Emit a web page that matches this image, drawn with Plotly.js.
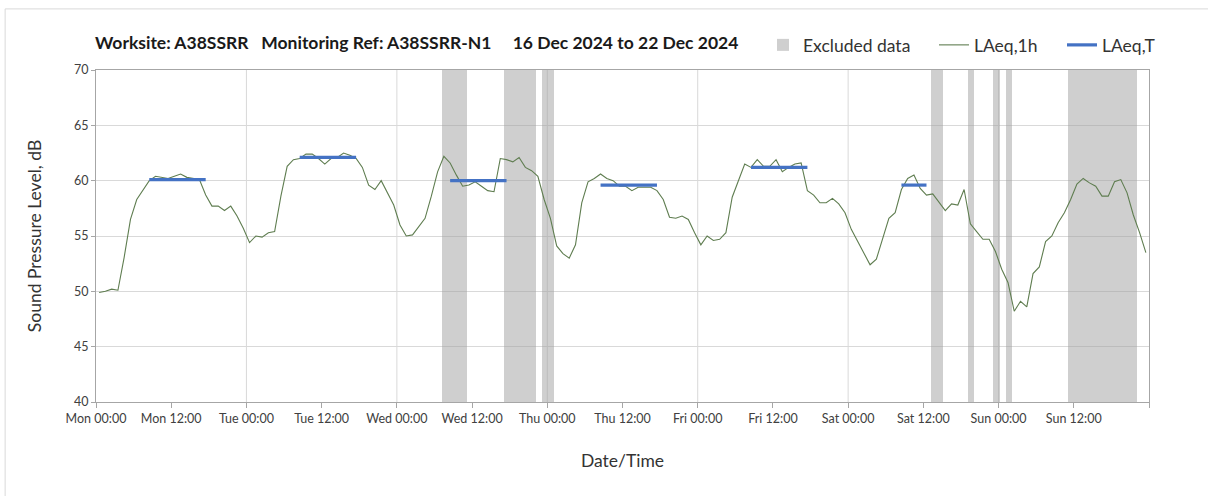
<!DOCTYPE html>
<html>
<head>
<meta charset="utf-8">
<script src="https://cdn.plot.ly/plotly-3.0.1.min.js"></script>
<style>
  html, body { margin: 0; padding: 0; background: #ffffff; }
  #chart { width: 1208px; height: 496px; }
</style>
</head>
<body>
<div id="chart"></div>
<script>
// ---- Data ----
// Day/time tick labels, every 12 hours from Mon 16 Dec 2024 00:00
const tickHours = [0, 12, 24, 36, 48, 60, 72, 84, 96, 108, 120, 132, 144, 156, 168];
const tickLabels = ["Mon 00:00", "Mon 12:00", "Tue 00:00", "Tue 12:00", "Wed 00:00", "Wed 12:00",
  "Thu 00:00", "Thu 12:00", "Fri 00:00", "Fri 12:00", "Sat 00:00", "Sat 12:00",
  "Sun 00:00", "Sun 12:00", ""];

// LAeq,1h hourly values (dB), hour 0 = Mon 00:00
const laeq1h = [
  49.9, 50.0, 50.2, 50.1, 53.1, 56.5, 58.3, 59.2, 60.0, 60.4, 60.3, 60.2,
  60.4, 60.6, 60.3, 60.2, 60.1, 58.7, 57.7, 57.7, 57.3, 57.7, 56.8, 55.7,
  54.4, 55.0, 54.9, 55.3, 55.4, 58.6, 61.3, 61.9, 62.0, 62.4, 62.4, 62.0,
  61.5, 62.0, 62.1, 62.5, 62.3, 62.0, 61.2, 59.6, 59.2, 60.0, 58.9, 57.8,
  56.0, 55.0, 55.1, 55.9, 56.6, 58.6, 60.8, 62.2, 61.6, 60.5, 59.5, 59.6,
  59.9, 59.5, 59.1, 59.0, 62.0, 61.9, 61.7, 62.1, 61.2, 60.9, 60.4, 58.3,
  56.6, 54.1, 53.4, 53.0, 54.2, 58.0, 59.9, 60.2, 60.6, 60.2, 60.0, 59.5,
  59.5, 59.1, 59.4, 59.4, 59.4, 59.1, 58.3, 56.7, 56.6, 56.8, 56.5, 55.3,
  54.2, 55.0, 54.6, 54.7, 55.3, 58.5, 60.1, 61.5, 61.2, 61.9, 61.3, 61.3,
  61.9, 60.8, 61.2, 61.5, 61.6, 59.1, 58.7, 58.0, 58.0, 58.4, 57.9, 57.1,
  55.6, 54.5, 53.5, 52.4, 52.9, 54.8, 56.6, 57.1, 59.2, 60.2, 60.5, 59.3,
  58.7, 58.8, 58.1, 57.3, 57.9, 57.8, 59.2, 56.1, 55.4, 54.7, 54.7, 53.6,
  52.0, 50.8, 48.2, 49.1, 48.6, 51.6, 52.2, 54.5, 55.0, 56.2, 57.1, 58.3,
  59.7, 60.2, 59.8, 59.5, 58.6, 58.6, 59.9, 60.1, 58.9, 56.9, 55.3, 53.5
];

// LAeq,T period values (dB): first and last hour of each period
const periodStartHour = [8, 32, 56, 80, 104, 128];
const periodEndHour   = [17, 41, 65, 89, 113, 132];
const periodLAeqT     = [60.1, 62.1, 60.0, 59.6, 61.2, 59.6];

// Excluded hours (hour index from Mon 00:00)
const excludedHours = [55, 56, 57, 58, 65, 66, 67, 68, 69, 71, 72, 133, 134, 139, 143, 145,
  155, 156, 157, 158, 159, 160, 161, 162, 163, 164, 165];

// ---- Build traces ----
const hourX = laeq1h.map((v, i) => i + 0.5);

const tX = [], tY = [];
periodLAeqT.forEach((v, k) => {
  tX.push(periodStartHour[k] + 0.5, periodEndHour[k] + 0.5, null);
  tY.push(v, v, null);
});

const exclTrace = {
  type: 'bar',
  name: 'Excluded data',
  legend: 'legend',
  x: excludedHours.map(h => h + 0.65),
  y: excludedHours.map(() => 30),
  base: 40,
  width: 1,
  marker: { color: 'rgba(160,160,160,0.5)', line: { width: 0 } },
  hoverinfo: 'skip'
};

const hourTrace = {
  type: 'scatter',
  mode: 'lines',
  name: 'LAeq,1h',
  legend: 'legend2',
  x: hourX,
  y: laeq1h,
  line: { color: '#5f7d50', width: 1.1 }
};

const periodTrace = {
  type: 'scatter',
  mode: 'lines',
  name: 'LAeq,T',
  legend: 'legend3',
  x: tX,
  y: tY,
  connectgaps: false,
  line: { color: '#4472c4', width: 3.2 }
};

// vertical day gridlines
const shapes = tickHours.filter(h => h % 24 === 0 && h > 0 && h < 168).map(h => ({
  type: 'line', xref: 'x', yref: 'paper', x0: h, x1: h, y0: 0, y1: 1,
  line: { color: '#d9d9d9', width: 1 }, layer: 'below'
}));
// outer chart frame
shapes.push({
  type: 'rect', xref: 'paper', yref: 'paper',
  x0: -0.0863, x1: 1.06, y0: -0.3, y1: 1.184,
  line: { color: '#d9d9d9', width: 1 }, fillcolor: 'rgba(0,0,0,0)', layer: 'below'
});

const legendFont = { family: 'Lato, sans-serif', size: 17.5, color: '#333333' };
function legendAt(px) {
  return {
    orientation: 'h',
    xref: 'container', yref: 'container',
    x: px / 1208, xanchor: 'left',
    y: 1 - 45 / 496, yanchor: 'middle',
    font: legendFont,
    bgcolor: 'rgba(0,0,0,0)',
    itemwidth: 30
  };
}

const layout = {
  width: 1208,
  height: 496,
  margin: { l: 96, r: 59, t: 70, b: 93.5 },
  paper_bgcolor: '#ffffff',
  plot_bgcolor: '#ffffff',
  bargap: 0,
  showlegend: true,
  shapes: shapes,
  title: {
    text: '<b>Worksite: A38SSRR\u00a0\u00a0\u00a0Monitoring Ref: A38SSRR-N1\u00a0\u00a0\u00a0\u00a0\u00a016 Dec 2024 to 22 Dec 2024</b>',
    font: { family: 'Lato, sans-serif', size: 17.5, color: '#1a1a1a' },
    xref: 'container', yref: 'container',
    x: 95 / 1208, xanchor: 'left',
    y: 1 - 43 / 496, yanchor: 'middle'
  },
  legend: legendAt(763),
  legend2: legendAt(934),
  legend3: legendAt(1062),
  xaxis: {
    range: [0, 168],
    tickmode: 'array',
    tickvals: tickHours,
    ticktext: tickLabels,
    showgrid: false,
    zeroline: false,
    showline: true,
    mirror: true,
    linecolor: '#a6a6a6',
    linewidth: 1,
    ticks: 'outside',
    ticklen: 5,
    tickcolor: '#a6a6a6',
    tickfont: { family: 'Lato, sans-serif', size: 12.5, color: '#404040' },
    title: {
      text: 'Date/Time',
      font: { family: 'Lato, sans-serif', size: 17.5, color: '#333333' },
      standoff: 29
    },
    fixedrange: true
  },
  yaxis: {
    range: [40, 70],
    tickmode: 'linear',
    tick0: 40,
    dtick: 5,
    showgrid: true,
    gridcolor: '#d9d9d9',
    gridwidth: 1,
    zeroline: false,
    showline: true,
    mirror: true,
    linecolor: '#a6a6a6',
    linewidth: 1,
    ticks: 'outside',
    ticklen: 4,
    tickcolor: '#a6a6a6',
    tickfont: { family: 'Lato, sans-serif', size: 12.5, color: '#404040' },
    title: {
      text: 'Sound Pressure Level, dB',
      font: { family: 'Lato, sans-serif', size: 17.5, color: '#333333' },
      standoff: 27
    },
    fixedrange: true
  }
};

Plotly.newPlot('chart', [exclTrace, hourTrace, periodTrace], layout, { displayModeBar: false, staticPlot: true });
</script>
</body>
</html>
